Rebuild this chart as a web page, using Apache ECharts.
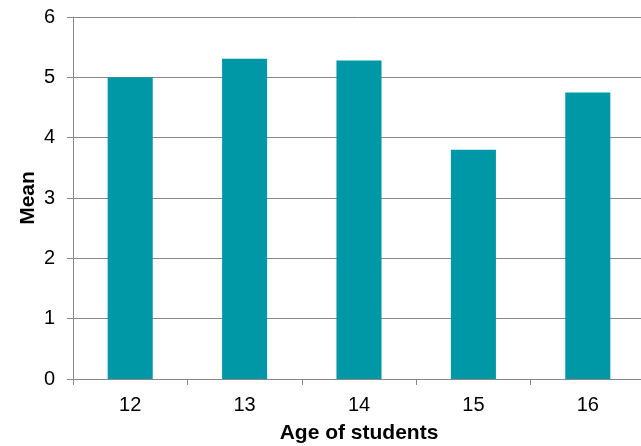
<!DOCTYPE html>
<html>
<head>
<meta charset="utf-8">
<script src="https://cdn.jsdelivr.net/npm/echarts@6/dist/echarts.min.js"></script>
<style>
  html, body { margin: 0; padding: 0; background: #fff; }
  #chart { width: 641px; height: 446px; }
</style>
</head>
<body>
<div id="chart"></div>
<script>
// Mean score by student age
const ages = ['12', '13', '14', '15', '16'];
const means = [5.0, 5.31, 5.28, 3.80, 4.75];
const yTicks = [0, 1, 2, 3, 4, 5, 6];

const chart = echarts.init(document.getElementById('chart'));
const font = 'Liberation Sans, Arial, sans-serif';

chart.setOption({
  animation: false,
  grid: { left: 73, right: -4, top: 17, bottom: 67, containLabel: false, outerBoundsMode: 'none' },
  xAxis: {
    type: 'category',
    data: ages,
    name: 'Age of students',
    nameLocation: 'middle',
    nameGap: 44,
    nameMoveOverlap: false,
    nameTextStyle: { fontFamily: font, fontSize: 21, fontWeight: 'bold', color: '#000' },
    axisLine: { lineStyle: { color: '#888', width: 1 } },
    axisTick: { show: true, length: 6, lineStyle: { color: '#888' } },
    axisLabel: { fontFamily: font, fontSize: 20, color: '#000', margin: 16 }
  },
  yAxis: {
    type: 'value',
    min: yTicks[0],
    max: yTicks[yTicks.length - 1],
    interval: 1,
    name: 'Mean',
    nameLocation: 'middle',
    nameGap: 34,
    nameMoveOverlap: false,
    nameTextStyle: { fontFamily: font, fontSize: 21, fontWeight: 'bold', color: '#000' },
    axisLine: { show: true, lineStyle: { color: '#888', width: 1 } },
    axisTick: { show: true, length: 6, lineStyle: { color: '#888' } },
    axisLabel: { fontFamily: font, fontSize: 20, color: '#000', margin: 18 },
    splitLine: { show: true, lineStyle: { color: '#888', width: 1 } }
  },
  series: [{
    type: 'bar',
    data: means,
    barWidth: '39.4%',
    itemStyle: { color: '#0097A7' }
  }]
});
</script>
</body>
</html>
